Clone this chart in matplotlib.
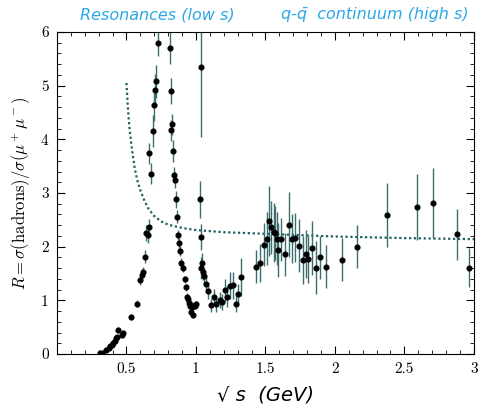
import matplotlib.pyplot as plt
from matplotlib.ticker import MultipleLocator

plt.rcParams["mathtext.fontset"] = "cm"

# measured R values (sqrt(s) in GeV, R, error)
sqrt_s = [0.310, 0.325, 0.355, 0.375, 0.385, 0.395, 0.405, 0.415, 0.425, 0.432, 0.440, 0.465, 0.475,
          0.535, 0.576, 0.598, 0.610, 0.620, 0.636, 0.643, 0.652, 0.660, 0.664, 0.676, 0.688, 0.700,
          0.705, 0.712, 0.724, 0.812, 0.819, 0.824, 0.831, 0.838, 0.843, 0.848, 0.855, 0.866, 0.874,
          0.879, 0.883, 0.895, 0.907, 0.919, 0.926, 0.938, 0.945, 0.952, 0.958, 0.962, 0.968, 0.975,
          0.979, 0.990, 0.998, 1.030, 1.034, 1.034, 1.034, 1.045, 1.050, 1.060, 1.076, 1.088, 1.105,
          1.130, 1.145, 1.170, 1.190, 1.207, 1.224, 1.243, 1.267, 1.288, 1.302, 1.324, 1.431, 1.462,
          1.493, 1.510, 1.526, 1.540, 1.560, 1.570, 1.580, 1.590, 1.612, 1.640, 1.670, 1.690, 1.716,
          1.743, 1.767, 1.790, 1.810, 1.838, 1.862, 1.890, 1.933, 2.052, 2.157, 2.374, 2.593, 2.707,
          2.879, 2.962]
R = [0.02, 0.02, 0.07, 0.12, 0.15, 0.17, 0.20, 0.24, 0.29, 0.32, 0.45, 0.36, 0.40,
     0.69, 0.94, 1.38, 1.48, 1.53, 1.81, 2.25, 2.22, 2.37, 3.74, 3.36, 4.15, 4.64,
     4.92, 5.08, 5.80, 5.71, 4.90, 4.17, 4.28, 3.78, 3.34, 3.24, 2.88, 2.56, 2.22,
     2.06, 1.92, 1.70, 1.60, 1.39, 1.24, 1.07, 1.02, 0.95, 0.90, 0.79, 0.92, 0.88,
     0.73, 0.90, 0.93, 2.88, 5.35, 2.18, 1.60, 1.69, 1.53, 1.45, 1.30, 1.18, 0.91,
     1.07, 0.94, 1.00, 0.97, 1.19, 1.07, 1.27, 1.28, 0.93, 1.11, 1.44, 1.63, 1.70,
     2.04, 2.15, 2.48, 2.36, 2.27, 2.26, 2.15, 1.94, 2.14, 1.86, 2.41, 2.15, 2.17,
     2.02, 1.75, 1.87, 1.77, 1.98, 1.61, 1.80, 1.63, 1.76, 2.00, 2.59, 2.74, 2.82,
     2.23, 1.61]
R_err = [0.01, 0.01, 0.02, 0.02, 0.03, 0.03, 0.03, 0.04, 0.04, 0.04, 0.06, 0.04, 0.04,
         0.05, 0.06, 0.10, 0.10, 0.10, 0.12, 0.15, 0.15, 0.15, 0.20, 0.20, 0.30, 0.30,
         0.30, 0.30, 0.25, 0.30, 0.25, 0.20, 0.20, 0.20, 0.15, 0.15, 0.15, 0.12, 0.10,
         0.10, 0.10, 0.08, 0.08, 0.06, 0.06, 0.06, 0.06, 0.06, 0.06, 0.06, 0.06, 0.06,
         0.06, 0.06, 0.06, 0.35, 1.30, 0.25, 0.20, 0.20, 0.15, 0.15, 0.15, 0.15, 0.12,
         0.15, 0.15, 0.15, 0.15, 0.20, 0.20, 0.25, 0.25, 0.15, 0.20, 0.35, 0.30, 0.35,
         0.40, 0.50, 0.65, 0.50, 0.55, 0.50, 0.50, 0.50, 0.40, 0.40, 0.60, 0.45, 0.45,
         0.50, 0.45, 0.45, 0.45, 0.50, 0.50, 0.40, 0.40, 0.40, 0.40, 0.59, 0.62, 0.65,
         0.48, 0.36]

# quark-parton expectation (dotted curve)
curve_x = [0.50, 0.51, 0.52, 0.54, 0.56, 0.58, 0.60, 0.63, 0.66, 0.70, 0.75, 0.80, 0.90, 1.00,
           1.20, 1.50, 2.00, 2.50, 3.00]
curve_y = [5.05, 4.60, 4.25, 3.80, 3.45, 3.22, 3.05, 2.85, 2.70, 2.57, 2.47, 2.41, 2.35, 2.31,
           2.27, 2.24, 2.19, 2.16, 2.14]

fig = plt.figure(figsize=(4.83, 4.16), dpi=100)
ax = fig.add_axes([0.118, 0.149, 0.863, 0.774])

ax.plot(curve_x, curve_y, linestyle=(0, (1, 1.2)), color="#1d5e5e", linewidth=1.6)
ax.errorbar(sqrt_s, R, yerr=R_err, fmt="o", color="black", markersize=3.4,
            ecolor="#3b6e6e", elinewidth=1.0, capsize=0)

ax.set_xlim(0, 3)
ax.set_ylim(0, 6)
ax.xaxis.set_minor_locator(MultipleLocator(0.1))
ax.yaxis.set_major_locator(MultipleLocator(1))
ax.yaxis.set_minor_locator(MultipleLocator(0.2))
ax.set_xticks([0.5, 1, 1.5, 2, 2.5, 3])
ax.set_xticklabels(["0.5", "1", "1.5", "2", "2.5", "3"])
ax.tick_params(which="both", direction="in", top=True, right=True)
ax.tick_params(which="major", length=6, labelsize=11, pad=6)
ax.tick_params(which="minor", length=3)
for lab in ax.get_xticklabels() + ax.get_yticklabels():
    lab.set_family("cmr10")

ax.set_ylabel(r"$R = \sigma(\mathrm{hadrons})/\sigma(\mu^+\mu^-)$", fontsize=12, labelpad=6)
ax.set_xlabel("\u221A s  (GeV)", fontsize=14, style="italic", labelpad=7)

fig.text(0.325, 0.965, "Resonances (low s)", color="#2aa7e6", style="italic",
         fontsize=11.5, ha="center", va="center")
fig.text(0.775, 0.965, "q-q\u0304  continuum (high s)", color="#2aa7e6", style="italic",
         fontsize=11.5, ha="center", va="center")

fig.savefig("out.png", dpi=100)
